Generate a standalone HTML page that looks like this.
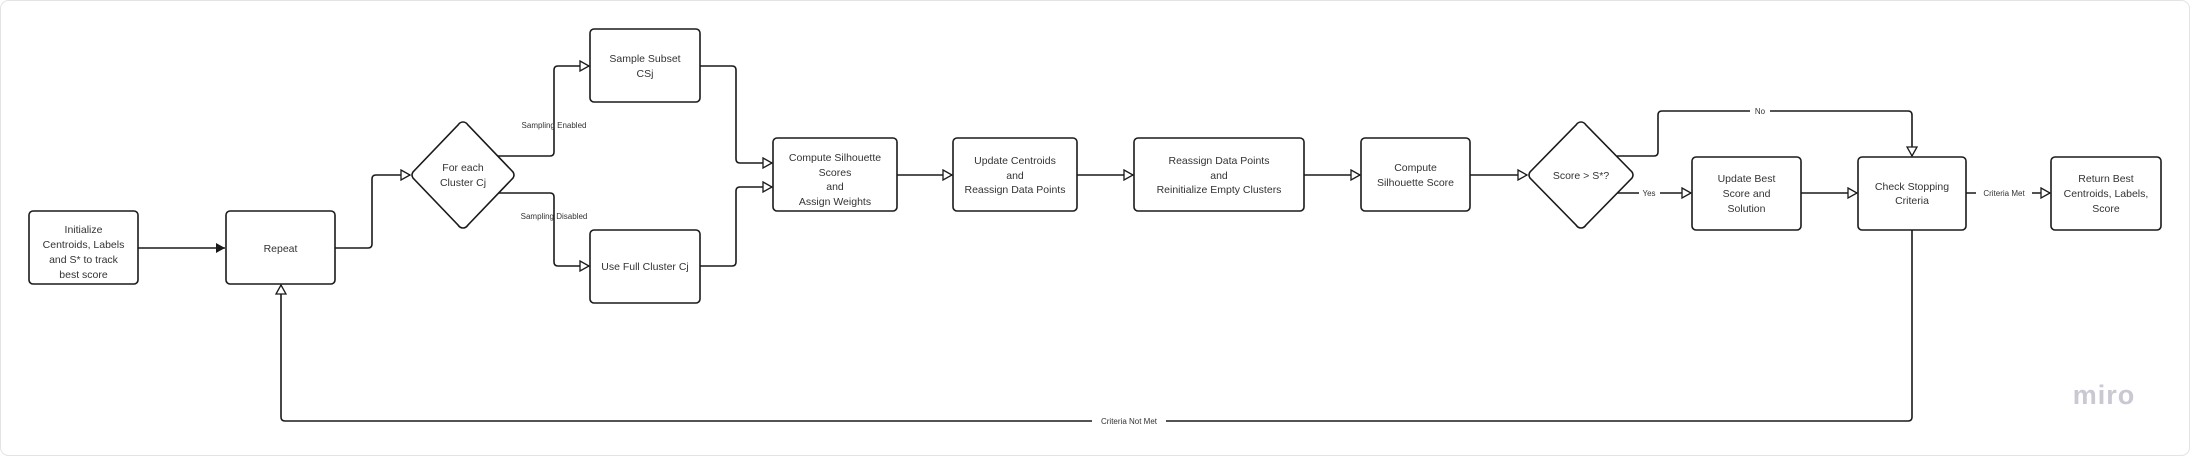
<!DOCTYPE html>
<html><head><meta charset="utf-8"><style>
html,body{margin:0;padding:0;background:#fff;}
svg{display:block;}
text{font-family:"Liberation Sans",sans-serif;fill:#333;}
.n{font-size:10.5px;text-anchor:middle;}
.l{font-size:8px;text-anchor:middle;}
</style></head><body>
<svg width="2190" height="456" viewBox="0 0 2190 456" xmlns="http://www.w3.org/2000/svg">
<defs>
<marker id="o" markerWidth="12" markerHeight="12" refX="10" refY="6" orient="auto" markerUnits="userSpaceOnUse">
<path d="M1,1 L10,6 L1,11 Z" fill="#fff" stroke="#1a1a1a" stroke-width="1.3"/></marker>
<marker id="f" markerWidth="12" markerHeight="12" refX="10" refY="6" orient="auto" markerUnits="userSpaceOnUse">
<path d="M1,1 L10,6 L1,11 Z" fill="#1a1a1a"/></marker>
</defs>
<rect x="0.5" y="0.5" width="2189" height="455" rx="8" fill="#fff" stroke="#e4e4e4"/>
<g fill="none" stroke="#1a1a1a" stroke-width="1.6" stroke-linejoin="round">
<!-- init -> repeat -->
<path d="M138,248 H225" marker-end="url(#f)"/>
<!-- repeat -> diamond -->
<path d="M335,248 H368 Q372,248 372,244 V179 Q372,175 376,175 H410" marker-end="url(#o)"/>
<!-- enabled -->
<path d="M497,156 H550 Q554,156 554,152 V70 Q554,66 558,66 H589" marker-end="url(#o)"/>
<!-- disabled -->
<path d="M497,193 H550 Q554,193 554,197 V262 Q554,266 558,266 H589" marker-end="url(#o)"/>
<!-- subset -> CS -->
<path d="M700,66 H732 Q736,66 736,70 V159 Q736,163 740,163 H772" marker-end="url(#o)"/>
<path d="M700,266 H732 Q736,266 736,262 V191 Q736,187 740,187 H772" marker-end="url(#o)"/>
<path d="M897,175 H952" marker-end="url(#o)"/>
<path d="M1077,175 H1133" marker-end="url(#o)"/>
<path d="M1304,175 H1360" marker-end="url(#o)"/>
<path d="M1470,175 H1527" marker-end="url(#o)"/>
<!-- No -->
<path d="M1617,156 H1654 Q1658,156 1658,152 V115 Q1658,111 1662,111 H1908 Q1912,111 1912,115 V156" marker-end="url(#o)"/>
<!-- Yes -->
<path d="M1617,193 H1691" marker-end="url(#o)"/>
<path d="M1801,193 H1857" marker-end="url(#o)"/>
<path d="M1966,193 H2050" marker-end="url(#o)"/>
<!-- loop back -->
<path d="M1912,230 V417 Q1912,421 1908,421 H285 Q281,421 281,417 V285" marker-end="url(#o)"/>
</g>
<g fill="#fff" stroke="#1a1a1a" stroke-width="1.6">
<rect x="29" y="211" width="109" height="73" rx="4"/>
<rect x="226" y="211" width="109" height="73" rx="4"/>
<path d="M463,122 Q466,122 468,125 L513,172 Q515,175 513,178 L468,225 Q466,228 463,228 Q460,228 458,225 L413,178 Q411,175 413,172 L458,125 Q460,122 463,122 Z"/>
<rect x="590" y="29" width="110" height="73" rx="4"/>
<rect x="590" y="230" width="110" height="73" rx="4"/>
<rect x="773" y="138" width="124" height="73" rx="4"/>
<rect x="953" y="138" width="124" height="73" rx="4"/>
<rect x="1134" y="138" width="170" height="73" rx="4"/>
<rect x="1361" y="138" width="109" height="73" rx="4"/>
<path d="M1581,122 Q1584,122 1586,125 L1632,172 Q1634,175 1632,178 L1586,225 Q1584,228 1581,228 Q1578,228 1576,225 L1530,178 Q1528,175 1530,172 L1576,125 Q1578,122 1581,122 Z"/>
<rect x="1692" y="157" width="109" height="73" rx="4"/>
<rect x="1858" y="157" width="108" height="73" rx="4"/>
<rect x="2051" y="157" width="110" height="73" rx="4"/>
</g>
<!-- label backgrounds -->
<g fill="#fff">
<rect x="1092" y="414" width="74" height="14"/>
<rect x="1750" y="105" width="20" height="12"/>
<rect x="1639" y="187" width="21" height="12"/>
<rect x="1976" y="187" width="56" height="12"/>
</g>
<text class="n" x="83.5" y="233">Initialize</text>
<text class="n" x="83.5" y="248">Centroids, Labels</text>
<text class="n" x="83.5" y="263">and S* to track</text>
<text class="n" x="83.5" y="278">best score</text>
<text class="n" x="280.5" y="252">Repeat</text>
<text class="n" x="463" y="171">For each</text>
<text class="n" x="463" y="186">Cluster Cj</text>
<text class="n" x="645" y="62">Sample Subset</text>
<text class="n" x="645" y="77">CSj</text>
<text class="n" x="645" y="270">Use Full Cluster Cj</text>
<text class="n" x="835" y="161">Compute Silhouette</text>
<text class="n" x="835" y="176">Scores</text>
<text class="n" x="835" y="190">and</text>
<text class="n" x="835" y="205">Assign Weights</text>
<text class="n" x="1015" y="164">Update Centroids</text>
<text class="n" x="1015" y="179">and</text>
<text class="n" x="1015" y="193">Reassign Data Points</text>
<text class="n" x="1219" y="164">Reassign Data Points</text>
<text class="n" x="1219" y="179">and</text>
<text class="n" x="1219" y="193">Reinitialize Empty Clusters</text>
<text class="n" x="1415.5" y="171">Compute</text>
<text class="n" x="1415.5" y="186">Silhouette Score</text>
<text class="n" x="1581" y="179">Score &gt; S*?</text>
<text class="n" x="1746.5" y="182">Update Best</text>
<text class="n" x="1746.5" y="197">Score and</text>
<text class="n" x="1746.5" y="212">Solution</text>
<text class="n" x="1912" y="190">Check Stopping</text>
<text class="n" x="1912" y="204">Criteria</text>
<text class="n" x="2106" y="182">Return Best</text>
<text class="n" x="2106" y="197">Centroids, Labels,</text>
<text class="n" x="2106" y="212">Score</text>
<text class="l" x="554" y="128">Sampling Enabled</text>
<text class="l" x="554" y="219">Sampling Disabled</text>
<text class="l" x="1129" y="424">Criteria Not Met</text>
<text class="l" x="1760" y="114">No</text>
<text class="l" x="1649" y="196">Yes</text>
<text class="l" x="2004" y="196">Criteria Met</text>
<text x="2104" y="404" style="font-size:27px;font-weight:bold;fill:#c9c8d3;text-anchor:middle;letter-spacing:1px">miro</text>
</svg>
</body></html>
